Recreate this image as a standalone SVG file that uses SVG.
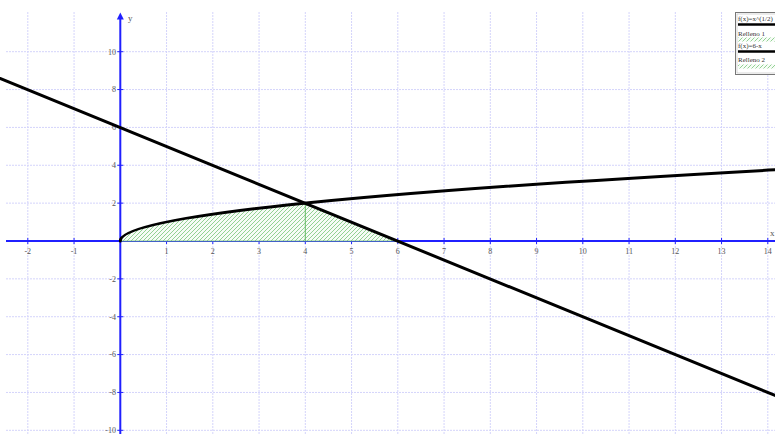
<svg xmlns="http://www.w3.org/2000/svg" width="775" height="434" viewBox="0 0 775 434">
<style>
.grid line{stroke:#d4d4fb;stroke-width:1;stroke-dasharray:2 1}
.axis{stroke:#2020ff;stroke-width:2;fill:none}
.tick{stroke:#2020ff;stroke-width:1}
.lbl{font-family:"Liberation Serif",serif;font-size:8px;fill:#555}
.xl{text-anchor:middle}
.yl{text-anchor:end}
.curve{stroke:#000;stroke-width:3;fill:none;stroke-linecap:round}
.leg{font-family:"Liberation Serif",serif;font-size:7px;fill:#333}
.hl{stroke:#88cc88;stroke-width:0.9}
</style>
<defs>
<pattern id="hatch" patternUnits="userSpaceOnUse" width="4" height="4">
<rect width="4" height="4" fill="#f6fcf6"/>
<path d="M-1,1 l2,-2 M0,4 l4,-4 M3,5 l2,-2" class="hl"/>
</pattern>
</defs>
<rect width="775" height="434" fill="#fff"/>
<g id="grid" class="grid">
<line x1="27.8" y1="12" x2="27.8" y2="434"/>
<line x1="74.05" y1="12" x2="74.05" y2="434"/>
<line x1="166.55" y1="12" x2="166.55" y2="434"/>
<line x1="212.8" y1="12" x2="212.8" y2="434"/>
<line x1="259.05" y1="12" x2="259.05" y2="434"/>
<line x1="305.3" y1="12" x2="305.3" y2="434"/>
<line x1="351.55" y1="12" x2="351.55" y2="434"/>
<line x1="397.8" y1="12" x2="397.8" y2="434"/>
<line x1="444.05" y1="12" x2="444.05" y2="434"/>
<line x1="490.3" y1="12" x2="490.3" y2="434"/>
<line x1="536.55" y1="12" x2="536.55" y2="434"/>
<line x1="582.8" y1="12" x2="582.8" y2="434"/>
<line x1="629.05" y1="12" x2="629.05" y2="434"/>
<line x1="675.3" y1="12" x2="675.3" y2="434"/>
<line x1="721.55" y1="12" x2="721.55" y2="434"/>
<line x1="767.8" y1="12" x2="767.8" y2="434"/>
<line x1="6" y1="51.7" x2="775" y2="51.7"/>
<line x1="6" y1="89.56" x2="775" y2="89.56"/>
<line x1="6" y1="127.42" x2="775" y2="127.42"/>
<line x1="6" y1="165.28" x2="775" y2="165.28"/>
<line x1="6" y1="203.14" x2="775" y2="203.14"/>
<line x1="6" y1="278.86" x2="775" y2="278.86"/>
<line x1="6" y1="316.72" x2="775" y2="316.72"/>
<line x1="6" y1="354.58" x2="775" y2="354.58"/>
<line x1="6" y1="392.44" x2="775" y2="392.44"/>
<line x1="6" y1="430.3" x2="775" y2="430.3"/>
</g>
<g id="axes">
<line class="axis" x1="6" y1="241" x2="775" y2="241"/>
<line class="axis" x1="120.3" y1="18" x2="120.3" y2="434"/>
<polygon points="120.3,12.5 116.8,19.5 123.8,19.5" fill="#2020ff"/>
<text class="lbl" x="128" y="21" style="font-size:9px">y</text>
<text class="lbl" x="770" y="236" style="font-size:9px">x</text>
<g class="tick">
<line x1="27.8" y1="238" x2="27.8" y2="244"/>
<line x1="74.05" y1="238" x2="74.05" y2="244"/>
<line x1="166.55" y1="238" x2="166.55" y2="244"/>
<line x1="212.8" y1="238" x2="212.8" y2="244"/>
<line x1="259.05" y1="238" x2="259.05" y2="244"/>
<line x1="305.3" y1="238" x2="305.3" y2="244"/>
<line x1="351.55" y1="238" x2="351.55" y2="244"/>
<line x1="397.8" y1="238" x2="397.8" y2="244"/>
<line x1="444.05" y1="238" x2="444.05" y2="244"/>
<line x1="490.3" y1="238" x2="490.3" y2="244"/>
<line x1="536.55" y1="238" x2="536.55" y2="244"/>
<line x1="582.8" y1="238" x2="582.8" y2="244"/>
<line x1="629.05" y1="238" x2="629.05" y2="244"/>
<line x1="675.3" y1="238" x2="675.3" y2="244"/>
<line x1="721.55" y1="238" x2="721.55" y2="244"/>
<line x1="767.8" y1="238" x2="767.8" y2="244"/>
<line x1="117.3" y1="51.7" x2="123.3" y2="51.7"/>
<line x1="117.3" y1="89.56" x2="123.3" y2="89.56"/>
<line x1="117.3" y1="127.42" x2="123.3" y2="127.42"/>
<line x1="117.3" y1="165.28" x2="123.3" y2="165.28"/>
<line x1="117.3" y1="203.14" x2="123.3" y2="203.14"/>
<line x1="117.3" y1="278.86" x2="123.3" y2="278.86"/>
<line x1="117.3" y1="316.72" x2="123.3" y2="316.72"/>
<line x1="117.3" y1="354.58" x2="123.3" y2="354.58"/>
<line x1="117.3" y1="392.44" x2="123.3" y2="392.44"/>
<line x1="117.3" y1="430.3" x2="123.3" y2="430.3"/>
</g>
<g class="lbl xl">
<text x="27.8" y="253.5">-2</text>
<text x="74.05" y="253.5">-1</text>
<text x="166.55" y="253.5">1</text>
<text x="212.8" y="253.5">2</text>
<text x="259.05" y="253.5">3</text>
<text x="305.3" y="253.5">4</text>
<text x="351.55" y="253.5">5</text>
<text x="397.8" y="253.5">6</text>
<text x="444.05" y="253.5">7</text>
<text x="490.3" y="253.5">8</text>
<text x="536.55" y="253.5">9</text>
<text x="582.8" y="253.5">10</text>
<text x="629.05" y="253.5">11</text>
<text x="675.3" y="253.5">12</text>
<text x="721.55" y="253.5">13</text>
<text x="767.8" y="253.5">14</text>
</g>
<g class="lbl yl">
<text x="116" y="54.5">10</text>
<text x="116" y="92.4">8</text>
<text x="116" y="130.2">6</text>
<text x="116" y="168.1">4</text>
<text x="116" y="206">2</text>
<text x="116" y="281.7">-2</text>
<text x="116" y="319.5">-4</text>
<text x="116" y="357.4">-6</text>
<text x="116" y="395.2">-8</text>
<text x="116" y="433.1">-10</text>
</g>
</g>
<g id="fill">
<path d="M120.3,241 Q120.3,222.07 305.3,203.14 L397.8,241 Z" fill="url(#hatch)" stroke="#77c077" stroke-width="0.8"/>
<line x1="305.3" y1="241" x2="305.3" y2="203.14" stroke="#66bb66" stroke-width="1"/>
</g>
<g id="curves">
<path id="f1" class="curve" d="M120.3,241 Q120.3,205.03 788.2,169.07"/>
<line id="f2" class="curve" x1="0" y1="78.5" x2="775" y2="395.4"/>
</g>
<g id="legend">
<rect x="735.5" y="12.5" width="45" height="62" fill="#fff" stroke="#777" stroke-width="1"/>
<rect x="737" y="14" width="42" height="59" fill="none" stroke="#bbb" stroke-width="0.6"/>
<text class="leg" x="738" y="21">f(x)=x^(1/2)</text>
<line x1="738" y1="24.5" x2="775" y2="24.5" stroke="#000" stroke-width="2.5"/>
<text class="leg" x="738" y="35.5">Relleno 1</text>
<rect x="738" y="37.5" width="37" height="4" fill="url(#hatch)"/>
<text class="leg" x="738" y="48.3">f(x)=6-x</text>
<line x1="738" y1="51.5" x2="775" y2="51.5" stroke="#000" stroke-width="2.5"/>
<text class="leg" x="738" y="62">Relleno 2</text>
<rect x="738" y="64.5" width="37" height="4" fill="url(#hatch)"/>
</g>
</svg>
